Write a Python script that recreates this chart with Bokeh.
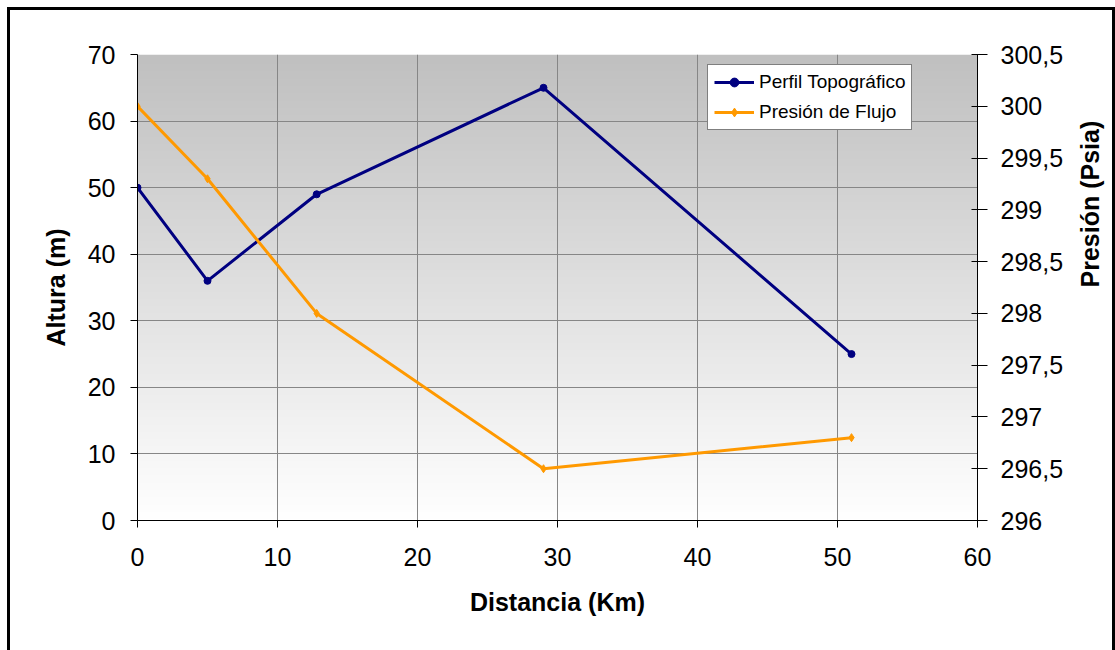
import math
import numpy as np
from bokeh.plotting import figure
from bokeh.models import (Range1d, LinearAxis, FixedTicker, CustomJSTickFormatter,
                          Legend, InlineStyleSheet)
from bokeh.embed import file_html
from bokeh.resources import INLINE

# ---- data ----
dist = [0, 5, 12.8, 29, 51]
altura = [50, 36, 49, 65, 25]
presion = [300, 299.3, 298, 296.5, 296.8]
x_ticks = [0, 10, 20, 30, 40, 50, 60]
y_ticks = [0, 10, 20, 30, 40, 50, 60, 70]
p_ticks = [296, 296.5, 297, 297.5, 298, 298.5, 299, 299.5, 300, 300.5]

FONT = "Liberation Sans"
NAVY = "#000080"
ORANGE = "#FF9900"

p = figure(width=1115, height=650, output_backend="svg", toolbar_location=None,
           x_range=Range1d(0, 60), y_range=Range1d(0, 70),
           frame_width=840, frame_height=466,
           min_border_left=137, min_border_right=138,
           min_border_top=54, min_border_bottom=130,
           background_fill_color="white", border_fill_color="white")
p.extra_y_ranges = {"p": Range1d(296, 300.5)}
p.outline_line_color = None

# gradient background (grey top -> white bottom)
n = 256
g = np.linspace(255, 192, n).astype(np.uint32)  # row 0 = bottom
img = (255 << 24) | (g << 16) | (g << 8) | g
img = img.reshape(n, 1).astype(np.uint32)
p.image_rgba(image=[img], x=0, y=0, dw=60, dh=70, level="image")

# grid
p.xgrid.ticker = FixedTicker(ticks=x_ticks)
p.ygrid.ticker = FixedTicker(ticks=y_ticks)
for gr in (p.xgrid, p.ygrid):
    gr.grid_line_color = "#868686"
    gr.grid_line_width = 1
    gr.level = "underlay"

# series
r1 = p.line(dist, altura, line_color=NAVY, line_width=3)
s1 = p.scatter(dist, altura, size=7, fill_color=NAVY, line_color=NAVY)
r2 = p.line(dist, presion, line_color=ORANGE, line_width=3, y_range_name="p")
s2 = p.scatter(dist, presion, size=8, marker="diamond", fill_color=ORANGE,
               line_color=ORANGE, y_range_name="p")

legend = Legend(items=[("Perfil Topográfico", [r1, s1]), ("Presión de Flujo", [r2, s2])],
                location=(570, 390), orientation="vertical")
legend.label_text_font = FONT
legend.label_text_font_size = "19px"
legend.label_text_color = "black"
legend.glyph_width = 40
legend.glyph_height = 22
legend.label_height = 22
legend.label_standoff = 5
legend.padding = 6
legend.spacing = 8
legend.margin = 0
legend.border_line_color = "black"
legend.border_line_width = 1
legend.background_fill_color = "white"
legend.background_fill_alpha = 1
p.add_layout(legend)

# axes
def style_axis(ax, ticks, tin, tout):
    ax.ticker = FixedTicker(ticks=ticks)
    ax.axis_line_color = "black"
    ax.axis_line_width = 1
    ax.major_tick_line_color = "black"
    ax.major_tick_in = tin
    ax.major_tick_out = tout
    ax.minor_tick_line_color = None
    ax.major_label_text_font = FONT
    ax.major_label_text_font_size = "25px"
    ax.major_label_text_color = "black"
    ax.axis_label_text_font = FONT
    ax.axis_label_text_font_size = "25px"
    ax.axis_label_text_font_style = "bold"
    ax.axis_label_text_color = "black"

style_axis(p.xaxis[0], x_ticks, 0, 7)
p.xaxis[0].axis_label = "Distancia (Km)"
p.xaxis[0].major_label_standoff = 20
p.xaxis[0].axis_label_standoff = 19

style_axis(p.yaxis[0], y_ticks, 0, 7)
p.yaxis[0].axis_label = "Altura (m)"
p.yaxis[0].major_label_standoff = 15
p.yaxis[0].axis_label_standoff = 15

right = LinearAxis(y_range_name="p", axis_label="Presión (Psia)")
style_axis(right, p_ticks, 6, 10)
right.formatter = CustomJSTickFormatter(code="return String(tick).replace('.', ',');")
right.major_label_standoff = 13
right.axis_label_standoff = 24
right.axis_label_orientation = math.pi / 2
p.add_layout(right, "right")

# outer black frame around the chart
p.stylesheets = [InlineStyleSheet(css="""
:host { position: relative; }
:host::after {
  content: ""; position: absolute; left: 7px; top: 7px;
  width: 1108px; height: 700px; border: 3px solid black;
  box-sizing: border-box; pointer-events: none; z-index: 100;
}
""")]

open("out.html", "w").write(file_html(p, INLINE))
